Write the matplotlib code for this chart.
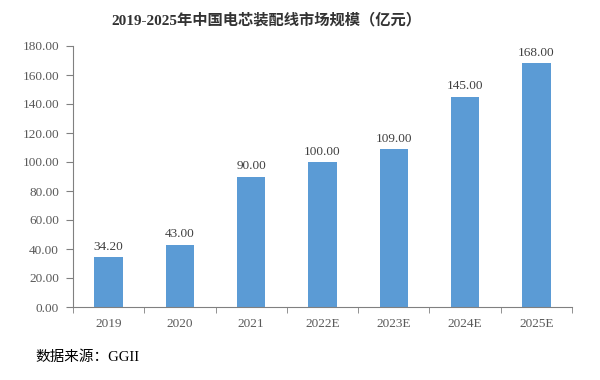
import matplotlib
matplotlib.use("Agg")
import matplotlib.pyplot as plt
import numpy as np

plt.rcParams['font.family'] = ['Liberation Serif', 'Noto Sans CJK SC', 'DejaVu Sans']

categories = ["2019", "2020", "2021", "2022E", "2023E", "2024E", "2025E"]
values = [34.20, 43.00, 90.00, 100.00, 109.00, 145.00, 168.00]
yticks = [0, 20, 40, 60, 80, 100, 120, 140, 160, 180]
title = "2019-2025年中国电芯装配线市场规模（亿元）"
source = "数据来源：GGII"

fig = plt.figure(figsize=(6, 3.8), dpi=100)
ax = fig.add_axes([73/600, 1-307/380, (572-73)/600, (307-46)/380])
x = np.arange(len(categories))
ax.bar(x, values, width=0.4, color="#5B9BD5", zorder=2)
for xi, v in zip(x, values):
    ax.text(xi, v + 3, f"{v:.2f}", ha="center", va="bottom", fontsize=9.5, color="#404040")

ax.set_xlim(-0.5, len(categories) - 0.5)
ax.set_ylim(0, 180)
ax.set_yticks(yticks)
ax.set_yticklabels([f"{t:.2f}" for t in yticks], fontsize=9.5, color="#595959")
ax.set_xticks(x)
ax.set_xticklabels(categories, fontsize=9.5, color="#595959")
ax.tick_params(axis="x", which="major", length=0, pad=8)
ax.set_xticks(np.arange(-0.5, len(categories)), minor=True)
ax.tick_params(axis="x", which="minor", length=4, color="#808080", direction="out")
ax.tick_params(axis="y", length=5, color="#808080", direction="out", pad=5)
for s in ["top", "right"]:
    ax.spines[s].set_visible(False)
for s in ["left", "bottom"]:
    ax.spines[s].set_color("#808080")
    ax.spines[s].set_linewidth(0.8)

fig.text(266/600, 1-20/380, title, ha="center", va="center", fontsize=11, fontweight="bold", color="#333333")
fig.text(35/600, 1-357/380, source, ha="left", va="center", fontsize=10.5, color="#000000")

fig.savefig("out.png", dpi=100)
